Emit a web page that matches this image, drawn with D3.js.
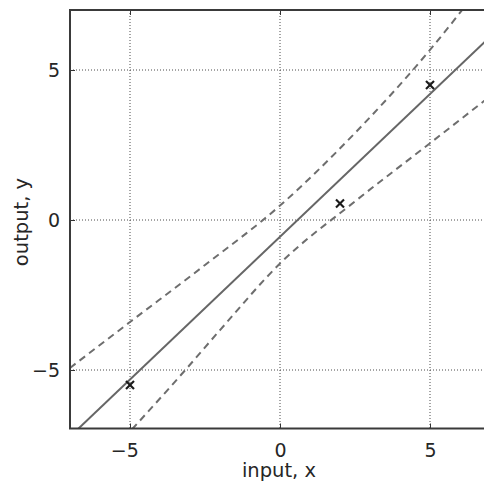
<!DOCTYPE html>
<html lang="en">
<head>
    <meta charset="UTF-8">
    <title>Linear regression: mean and error bars</title>
    <script src="https://d3js.org/d3.v7.min.js"></script>
    <style>
        body { margin: 0; background: #fff; }
        .tick text { font-family: "DejaVu Sans", sans-serif; font-size: 19px; fill: #262626; }
        .axis-label { font-family: "DejaVu Sans", sans-serif; font-size: 19.5px; fill: #262626; text-anchor: middle; }
        .grid line { stroke: #4a4a4a; stroke-width: 1; stroke-dasharray: 1,2; }
        .frame { fill: none; stroke: #3a3a3a; stroke-width: 2; }
    </style>
</head>
<body>
    <div id="chart"></div>
    <script>
        // values
        const gridTicks = [-5, 0, 5];

        const trainX = [-5, 2, 5];
        const trainY = [-5.5, 0.55, 4.5];

        const meanX = [-7, 7];
        const meanY = [-7.22, 6.1];

        const upperX = [-7, -5, -2.5, 0, 2.5, 5, 7];
        const upperY = [-4.93, -3.4, -1.5, 0.48, 2.9, 5.67, 8.2];

        const lowerX = [-5.2, -3.2, -2, 0, 2.5, 5, 7];
        const lowerY = [-7.27, -5.05, -3.67, -1.45, 0.62, 2.56, 4.12];

        const W = 484, H = 489;

        const x = d3.scaleLinear().domain([-7, 7]).range([70, 490]);
        const y = d3.scaleLinear().domain([-6.95, 7]).range([428.5, 10]);

        const svg = d3.select("#chart")
            .append("svg")
            .attr("width", W)
            .attr("height", H);

        svg.append("clipPath")
            .attr("id", "plot-clip")
            .append("rect")
            .attr("x", x(-7)).attr("y", y(7))
            .attr("width", x(7) - x(-7))
            .attr("height", y(-6.95) - y(7));

        // dotted grid
        const grid = svg.append("g").attr("class", "grid");
        grid.selectAll(".vx")
            .data(gridTicks)
            .enter()
            .append("line")
            .attr("x1", d => x(d)).attr("x2", d => x(d))
            .attr("y1", y(7)).attr("y2", y(-6.95));
        grid.selectAll(".hy")
            .data(gridTicks)
            .enter()
            .append("line")
            .attr("x1", x(-7)).attr("x2", x(7))
            .attr("y1", d => y(d)).attr("y2", d => y(d));

        const plot = svg.append("g").attr("clip-path", "url(#plot-clip)");

        const line = d3.line()
            .x(d => x(d[0]))
            .y(d => y(d[1]))
            .curve(d3.curveMonotoneX);

        const band = [d3.zip(upperX, upperY), d3.zip(lowerX, lowerY)];
        plot.selectAll(".band")
            .data(band)
            .enter()
            .append("path")
            .attr("class", "band")
            .attr("d", line)
            .attr("fill", "none")
            .attr("stroke", "#6e6e6e")
            .attr("stroke-width", 2)
            .attr("stroke-dasharray", "7,5");

        plot.append("path")
            .datum(d3.zip(meanX, meanY))
            .attr("d", line)
            .attr("fill", "none")
            .attr("stroke", "#666")
            .attr("stroke-width", 2);

        // training points as crosses
        const s = 4;
        const pts = plot.selectAll(".pt")
            .data(d3.zip(trainX, trainY))
            .enter()
            .append("g")
            .attr("transform", d => `translate(${x(d[0])},${y(d[1])})`)
            .attr("stroke", "#1a1a1a")
            .attr("stroke-width", 2.2);
        pts.append("line").attr("x1", -s).attr("y1", -s).attr("x2", s).attr("y2", s);
        pts.append("line").attr("x1", -s).attr("y1", s).attr("x2", s).attr("y2", -s);

        // axes: inward ticks, labels outside
        const fmt = d3.format("d");
        const xAxis = svg.append("g")
            .attr("transform", `translate(0,${y(-6.95)})`)
            .call(d3.axisBottom(x).tickValues(gridTicks).tickSizeInner(-5).tickSizeOuter(0).tickPadding(15).tickFormat(fmt));
        xAxis.selectAll(".tick text").attr("dx", d => d < 0 ? "-0.3em" : 0);

        svg.append("g")
            .attr("transform", `translate(${x(-7)},0)`)
            .call(d3.axisLeft(y).tickValues(gridTicks).tickSizeInner(-5).tickSizeOuter(0).tickPadding(10).tickFormat(fmt));

        svg.append("g")
            .attr("transform", `translate(0,${y(7)})`)
            .call(d3.axisTop(x).tickValues(gridTicks).tickSizeInner(-5).tickSizeOuter(0).tickFormat(""));

        svg.selectAll(".domain").remove();
        svg.selectAll(".tick line").attr("stroke", "#333").attr("stroke-width", 1);

        // frame (right side falls outside the picture)
        svg.append("path")
            .attr("class", "frame")
            .attr("d", `M${x(7)},${y(7)}H${x(-7)}V${y(-6.95)}H${x(7)}`);

        svg.append("text")
            .attr("class", "axis-label")
            .attr("x", 279)
            .attr("y", 477)
            .text("input, x");

        svg.append("text")
            .attr("class", "axis-label")
            .attr("transform", "translate(28,222) rotate(-90)")
            .text("output, y");
    </script>
</body>
</html>
